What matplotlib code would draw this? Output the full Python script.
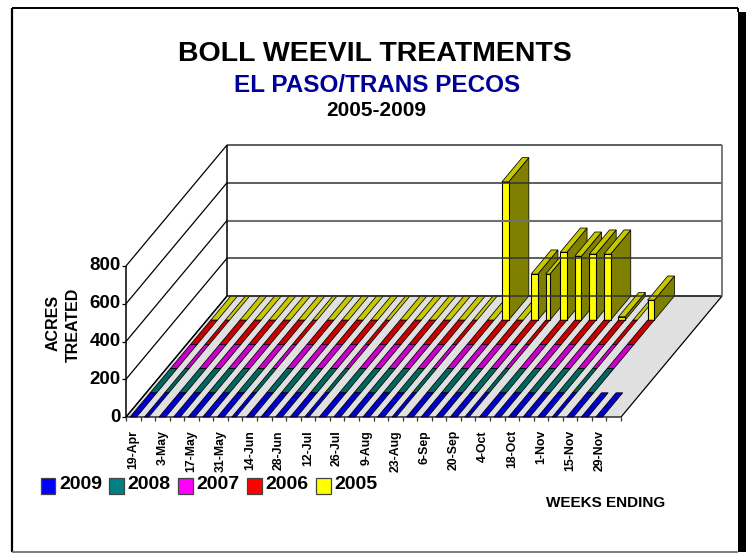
"""Boll weevil treatments chart, drawn as an oblique pseudo-3D bar chart."""

import matplotlib

matplotlib.use("Agg")
import matplotlib.pyplot as plt
from matplotlib.patches import Polygon, Rectangle

WEEK_LABELS = ["19-Apr", "3-May", "17-May", "31-May", "14-Jun", "28-Jun", "12-Jul", "26-Jul", "9-Aug",
               "23-Aug", "6-Sep", "20-Sep", "4-Oct", "18-Oct", "1-Nov", "15-Nov", "29-Nov"]
YEARS = ["2009", "2008", "2007", "2006", "2005"]
Y_TICKS = [0, 200, 400, 600, 800]

# None = no bar at all for that week, 0 = flat strip on the floor
ACRES_2009 = [0] * 33 + [None]
ACRES_2008 = [0] * 31 + [None] * 3
ACRES_2007 = [0] * 31 + [None] * 3
ACRES_2006 = [0] * 31 + [None] * 3
ACRES_2005 = [0] * 20 + [733, 0, 244, 244, 360, 339, 350, 350, 18, 0, 106] + [None] * 3
SERIES = [ACRES_2009, ACRES_2008, ACRES_2007, ACRES_2006, ACRES_2005]

FRONT = ["#0000FF", "#008080", "#FF00FF", "#FF0000", "#FFFF00"]
TOP = ["#0000C8", "#006660", "#C800C8", "#C80000", "#C8C800"]
SIDE = ["#000080", "#004040", "#800080", "#800000", "#808000"]
LEGEND_X = [40.5, 109, 178, 247, 316]

# the low-res original renders some weeks thinner than the others
NARROW_WEEKS = [1, 7, 12, 18, 23, 29]

X0, Y0 = 126, 417
WEEK_W = 14.56
DEPTH_X, DEPTH_Y = 20.2, 24.2
Y_SCALE = 151 / 800
FONT = "Liberation Sans"


def project(week, row, value=0):
    return X0 + week * WEEK_W + row * DEPTH_X, Y0 - row * DEPTH_Y - value * Y_SCALE


def poly(ax, points, color, lw=0.55, edge="black"):
    ax.add_patch(Polygon(points, closed=True, facecolor=color, edgecolor=edge, linewidth=lw, joinstyle="miter"))


def line(ax, p, q, color="black", lw=0.9):
    ax.plot([p[0], q[0]], [p[1], q[1]], color=color, linewidth=lw, solid_capstyle="butt")


def frame(ax):
    ax.add_patch(Rectangle((738, 12), 7.5, 540, facecolor="black", edgecolor="none"))
    line(ax, (12, 8), (738, 8), lw=1.4)
    line(ax, (12, 8), (12, 552), lw=1.6)
    line(ax, (12, 552), (738, 552), color="#666666", lw=1.2)
    line(ax, (738, 8), (738, 12), lw=1.4)


def walls(ax):
    n_weeks = len(ACRES_2009)
    floor = [project(0, 0), project(n_weeks, 0), project(n_weeks, 5), project(0, 5)]
    poly(ax, floor, "#E0E0E0", lw=0.9)
    for tick in Y_TICKS:
        front = project(0, 0, tick)
        back = project(0, 5, tick)
        right = project(n_weeks, 5, tick)
        line(ax, front, back, lw=0.9)
        line(ax, back, right, color="#333333" if tick not in (400,) else "#707070", lw=1.1 if tick != 400 else 1.5)
        line(ax, (front[0] - 4, front[1]), front, lw=0.9)
        ax.text(front[0] - 5, front[1], str(tick), ha="right", va="center", fontsize=13.5,
                fontweight="bold", family=FONT, color="black")
    line(ax, project(0, 5, 0), project(0, 5, Y_TICKS[-1]), lw=1.1)
    line(ax, project(n_weeks, 5, 0), project(n_weeks, 5, Y_TICKS[-1]), color="#707070", lw=1.3)
    line(ax, project(0, 0, 0), project(0, 0, Y_TICKS[-1]), lw=1.1)
    for week in range(n_weeks + 1):
        x, y = project(week, 0)
        line(ax, (x, y), (x, y + 4), color="#333333", lw=0.9)


def bars(ax):
    for row in reversed(range(len(SERIES))):
        for week, value in enumerate(SERIES[row]):
            if value is None:
                continue
            left = week + 0.27
            right = left + (0.29 if week in NARROW_WEEKS else 0.46)
            if value > 0:
                poly(ax, [project(right, row), project(right, row + 1), project(right, row + 1, value),
                          project(right, row, value)], SIDE[row])
            poly(ax, [project(left, row, value), project(right, row, value), project(right, row + 1, value),
                      project(left, row + 1, value)], TOP[row])
            if value > 0:
                poly(ax, [project(left, row), project(right, row), project(right, row, value),
                          project(left, row, value)], FRONT[row], lw=0.8)


def labels(ax):
    ax.text(375, 54, "BOLL WEEVIL TREATMENTS", ha="center", va="center", fontsize=20.5, fontweight="bold",
            family=FONT, color="black")
    ax.text(377, 85, "EL PASO/TRANS PECOS", ha="center", va="center", fontsize=17.5, fontweight="bold",
            family=FONT, color="#000099")
    ax.text(376, 110, "2005-2009", ha="center", va="center", fontsize=15, fontweight="bold",
            family=FONT, color="black")
    ax.text(53, 323, "ACRES", rotation=90, ha="center", va="center", fontsize=11.5, fontweight="bold",
            family=FONT, color="black")
    ax.text(73, 325, "TREATED", rotation=90, ha="center", va="center", fontsize=11.5, fontweight="bold",
            family=FONT, color="black")
    ax.text(606, 503, "WEEKS ENDING", ha="center", va="center", fontsize=11, fontweight="bold",
            family=FONT, color="black")
    for index, text in enumerate(WEEK_LABELS):
        x, _ = project(index * 2 + 0.5, 0)
        ax.text(x, 430, text, rotation=90, ha="center", va="top", fontsize=8.8, fontweight="bold",
                family=FONT, color="black")
    for x, year, color in zip(LEGEND_X, YEARS, FRONT):
        ax.add_patch(Rectangle((x, 477.5), 14.5, 16.5, facecolor=color, edgecolor="#444444", linewidth=0.9))
        ax.text(x + 18.5, 484.5, year, ha="left", va="center", fontsize=14, fontweight="bold",
                family=FONT, color="black")


def main():
    fig = plt.figure(figsize=(7.51, 5.53), dpi=100, facecolor="white")
    ax = fig.add_axes([0, 0, 1, 1])
    ax.set_xlim(0, 751)
    ax.set_ylim(553, 0)
    ax.axis("off")
    frame(ax)
    walls(ax)
    bars(ax)
    labels(ax)
    fig.savefig("out.png", dpi=100, facecolor="white")
    plt.close(fig)


if __name__ == "__main__":
    main()
